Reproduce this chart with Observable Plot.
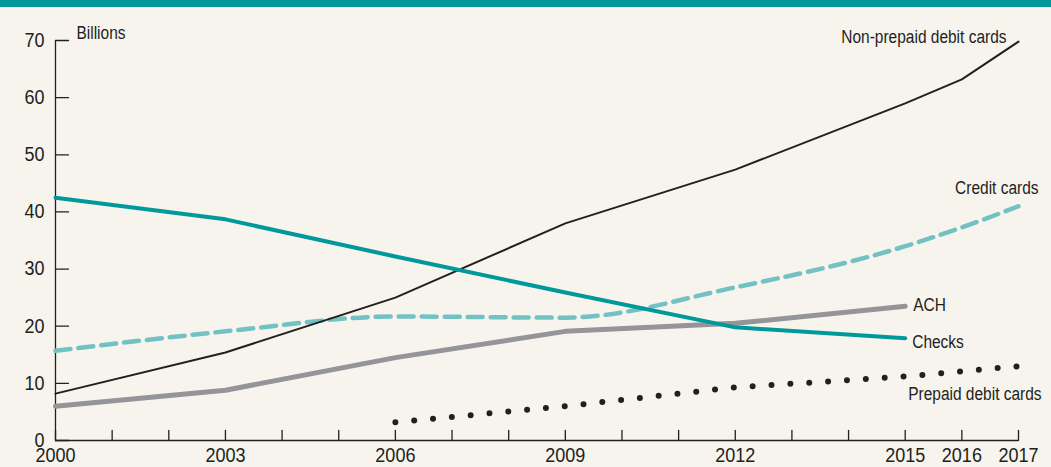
<!DOCTYPE html>
<html>
<head>
<meta charset="utf-8">
<script src="https://cdn.jsdelivr.net/npm/d3@7"></script>
<script src="https://cdn.jsdelivr.net/npm/@observablehq/plot@0.6"></script>
<style>
  html, body { margin: 0; padding: 0; background: #f7f4ee; }
  #band { height: 7px; background: #00999b; }
  #chart svg { display: block; }
</style>
</head>
<body>
<div id="band"></div>
<div id="chart"></div>
<script>
const years = [2000, 2003, 2006, 2009, 2012, 2015, 2016, 2017];
const nonPrepaidDebit = [8.2, 15.4, 25.0, 38.0, 47.4, 59.0, 63.2, 69.8];
const creditYears = [2000, 2003, 2006, 2009, 2012, 2015, 2016, 2017];
const creditCards = [15.7, 19.1, 21.7, 21.5, 26.8, 34.0, 37.3, 41.0];
const checksYears = [2000, 2003, 2006, 2009, 2012, 2015];
const checks = [42.5, 38.7, 32.2, 25.9, 19.8, 17.9];
const achYears = [2000, 2003, 2006, 2009, 2012, 2015];
const ach = [6.0, 8.8, 14.5, 19.1, 20.5, 23.5];
const prepaidYears = [2006, 2009, 2012, 2015, 2016, 2017];
const prepaidDebit = [3.2, 6.0, 9.3, 11.2, 12.1, 13.0];

const xLabelYears = [2000, 2003, 2006, 2009, 2012, 2015, 2016, 2017];
const xTickYears = [2000, 2001, 2002, 2003, 2004, 2005, 2006, 2007, 2008, 2009, 2010, 2011, 2012, 2013, 2014, 2015, 2016, 2017];
const yTicks = [0, 10, 20, 30, 40, 50, 60, 70];
const unitLabel = "Billions";

const toRows = (xs, vs) => xs.map((x, i) => ({x, y: vs[i]}));
const npd = toRows(years, nonPrepaidDebit);
const cc = toRows(creditYears, creditCards);
const ck = toRows(checksYears, checks);
const ac = toRows(achYears, ach);
const pp = toRows(prepaidYears, prepaidDebit);

const FONT = "'Liberation Sans', Arial, sans-serif";
const INK = "#231f20";
const lineShape = {draw(ctx, l) { ctx.moveTo(0, 0); ctx.lineTo(0, -l); }};

const chart = Plot.plot({
  width: 1051,
  height: 460,
  marginLeft: 55,
  marginRight: 33,
  marginTop: 33,
  marginBottom: 27,
  style: {fontFamily: FONT, background: "#f7f4ee", color: INK, overflow: "visible"},
  x: {domain: [2000, 2017], axis: null},
  y: {domain: [0, 70], axis: null},
  marks: [
    // axes
    Plot.axisY(yTicks, {tickSize: 0, tickPadding: 11, fontSize: 20, fill: INK, label: null, className: "tick-lab"}),
    Plot.axisX(xLabelYears, {tickSize: 0, tickPadding: 7, fontSize: 20, fill: INK, label: null, tickFormat: d => String(d), className: "tick-lab"}),
    Plot.vector(yTicks, {x: () => 2000, y: d => d, length: 13, rotate: 90, anchor: "start", shape: lineShape, stroke: INK, strokeWidth: 1.3}),
    Plot.vector(xTickYears, {x: d => d, y: () => 0, length: 10, rotate: 0, anchor: "start", shape: lineShape, stroke: INK, strokeWidth: 1.3}),
    Plot.ruleX([2000], {stroke: INK, strokeWidth: 1.3}),
    Plot.ruleY([0], {stroke: INK, strokeWidth: 1.3}),
    Plot.text([unitLabel], {frameAnchor: "top-left", dx: 21, dy: -14, fontSize: 18, fill: INK, textAnchor: "start"}),
    // series
    Plot.line(ac, {x: "x", y: "y", stroke: "#939598", strokeWidth: 5, strokeLinecap: "round"}),
    Plot.line(cc, {x: "x", y: "y", stroke: "#72c2c4", strokeWidth: 4.5, strokeDasharray: "15 8", curve: "monotone-x"}),
    Plot.line(pp, {x: "x", y: "y", stroke: INK, strokeWidth: 6, strokeDasharray: "0 18.9", strokeLinecap: "round"}),
    Plot.line(npd, {x: "x", y: "y", stroke: INK, strokeWidth: 2}),
    Plot.line(ck, {x: "x", y: "y", stroke: "#00999b", strokeWidth: 4, strokeLinecap: "round"}),
    // labels
    Plot.text(npd.slice(-1), {x: "x", y: "y", text: () => "Non-prepaid debit cards", textAnchor: "end", dx: -12, dy: -4, fontSize: 18, fill: INK}),
    Plot.text(cc.slice(-1), {x: "x", y: "y", text: () => "Credit cards", textAnchor: "end", dx: 20, dy: -18, fontSize: 18, fill: INK}),
    Plot.text(ac.slice(-1), {x: "x", y: "y", text: () => "ACH", textAnchor: "start", dx: 8, dy: -1, fontSize: 18, fill: INK}),
    Plot.text(ck.slice(-1), {x: "x", y: "y", text: () => "Checks", textAnchor: "start", dx: 7, dy: 4, fontSize: 18, fill: INK}),
    Plot.text(pp.filter(d => d.x === 2015), {x: "x", y: "y", text: () => "Prepaid debit cards", textAnchor: "start", dx: 3, dy: 18, fontSize: 18, fill: INK})
  ]
});
document.getElementById("chart").appendChild(chart);

// imitate a condensed typeface: compress each text horizontally around its anchor
chart.querySelectorAll("text").forEach(t => {
  const isTick = t.closest(".tick-lab") !== null;
  const f = isTick ? 0.9 : 0.86;
  const len = t.getComputedTextLength();
  if (len > 0) {
    t.setAttribute("textLength", (len * f).toFixed(1));
    t.setAttribute("lengthAdjust", "spacingAndGlyphs");
  }
});
</script>
</body>
</html>
